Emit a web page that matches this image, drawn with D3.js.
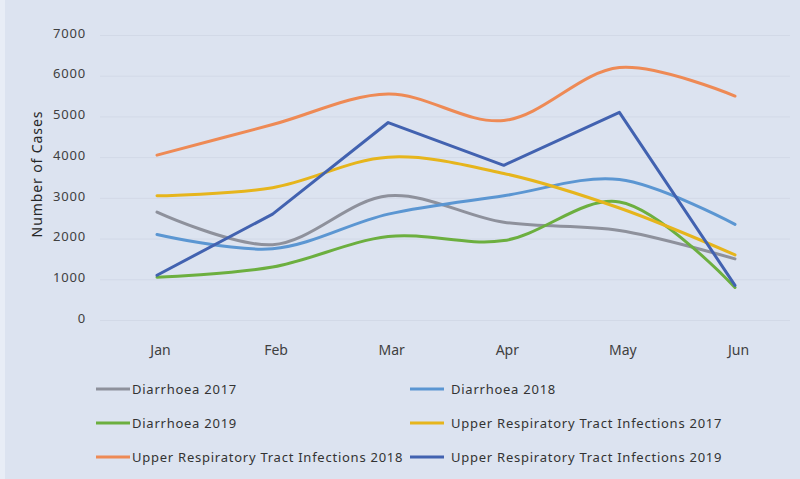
<!DOCTYPE html>
<html>
<head>
<meta charset="utf-8">
<script src="https://cdn.jsdelivr.net/npm/d3@7"></script>
<style>
  html, body { margin: 0; padding: 0; background: #dce3f0; }
  svg { display: block; }
  text { font-family: "Noto Sans", "Open Sans", sans-serif; }
</style>
</head>
<body>
<svg id="chart" width="800" height="479"></svg>
<script>
// ---- data ----
const months = ["Jan", "Feb", "Mar", "Apr", "May", "Jun"];
const yTicks = [0, 1000, 2000, 3000, 4000, 5000, 6000, 7000];
const seriesNames = [
  "Diarrhoea 2017",
  "Diarrhoea 2018",
  "Diarrhoea 2019",
  "Upper Respiratory Tract Infections 2017",
  "Upper Respiratory Tract Infections 2018",
  "Upper Respiratory Tract Infections 2019"
];
const diarrhoea2017 = [2650, 1850, 3050, 2400, 2200, 1500];
const diarrhoea2018 = [2100, 1750, 2600, 3050, 3450, 2350];
const diarrhoea2019 = [1050, 1300, 2050, 1950, 2900, 800];
const urti2017 = [3050, 3250, 4000, 3600, 2750, 1600];
const urti2018 = [4050, 4800, 5550, 4900, 6200, 5500];
const urti2019 = [1100, 2600, 4850, 3800, 5100, 850];
const yAxisTitle = "Number of Cases";

// ---- styles ----
const colors = ["#8e919c", "#5b96d2", "#6caf3f", "#e6b51c", "#ee8a55", "#4262b0"];
const smooth = [true, true, true, true, true, false];
const allValues = [diarrhoea2017, diarrhoea2018, diarrhoea2019, urti2017, urti2018, urti2019];

const svg = d3.select("#chart");
svg.append("rect").attr("width", 800).attr("height", 479).attr("fill", "#dce3f0");
svg.append("rect").attr("width", 5).attr("height", 479).attr("fill", "#e8edf6");

const x = d3.scalePoint().domain(months).range([157, 735]);
const y = d3.scaleLinear().domain([0, 7000]).range([320, 35]);

// gridlines
svg.append("g")
  .attr("transform", "translate(100,0)")
  .call(d3.axisRight(y).tickValues(yTicks).tickSize(690).tickFormat(""))
  .call(g => g.select(".domain").remove())
  .call(g => g.selectAll("line").attr("stroke", "#d2d9e7").attr("stroke-width", 1));

// y axis labels
svg.append("g")
  .attr("transform", "translate(86,-2)")
  .call(d3.axisLeft(y).tickValues(yTicks).tickSize(0).tickPadding(0).tickFormat(d3.format("d")))
  .call(g => g.select(".domain").remove())
  .call(g => g.selectAll("text").attr("fill", "#404040").attr("font-size", 13).attr("letter-spacing", 0.8));

// x axis labels
svg.append("g")
  .attr("transform", "translate(3,335)")
  .call(d3.axisBottom(x).tickSize(0).tickPadding(10))
  .call(g => g.select(".domain").remove())
  .call(g => g.selectAll("text").attr("fill", "#404040").attr("font-size", 14));

// y axis title
svg.append("text")
  .attr("transform", "translate(42,174) rotate(-90)")
  .attr("text-anchor", "middle")
  .attr("font-size", 14)
  .attr("letter-spacing", 0.9)
  .attr("fill", "#262626")
  .text(yAxisTitle);

// lines
allValues.forEach((vals, i) => {
  const line = d3.line()
    .x((d, j) => x(months[j]))
    .y(d => y(d))
    .curve(smooth[i] ? d3.curveCatmullRom.alpha(0.5) : d3.curveLinear);
  svg.append("path")
    .datum(vals)
    .attr("fill", "none")
    .attr("stroke", colors[i])
    .attr("stroke-width", 3)
    .attr("stroke-linejoin", "round")
    .attr("stroke-linecap", "round")
    .attr("d", line);
});

// legend
const legCols = [{lx: 96, tx: 132}, {lx: 410, tx: 451}];
const legRows = [389, 423, 457];
seriesNames.forEach((name, i) => {
  const c = legCols[i % 2], ry = legRows[Math.floor(i / 2)];
  svg.append("line")
    .attr("x1", c.lx).attr("x2", c.lx + 34)
    .attr("y1", ry).attr("y2", ry)
    .attr("stroke", colors[i]).attr("stroke-width", 3);
  svg.append("text")
    .attr("x", c.tx).attr("y", ry)
    .attr("dy", "0.35em")
    .attr("font-size", 13)
    .attr("letter-spacing", 0.75)
    .attr("fill", "#333")
    .text(name);
});
</script>
</body>
</html>
